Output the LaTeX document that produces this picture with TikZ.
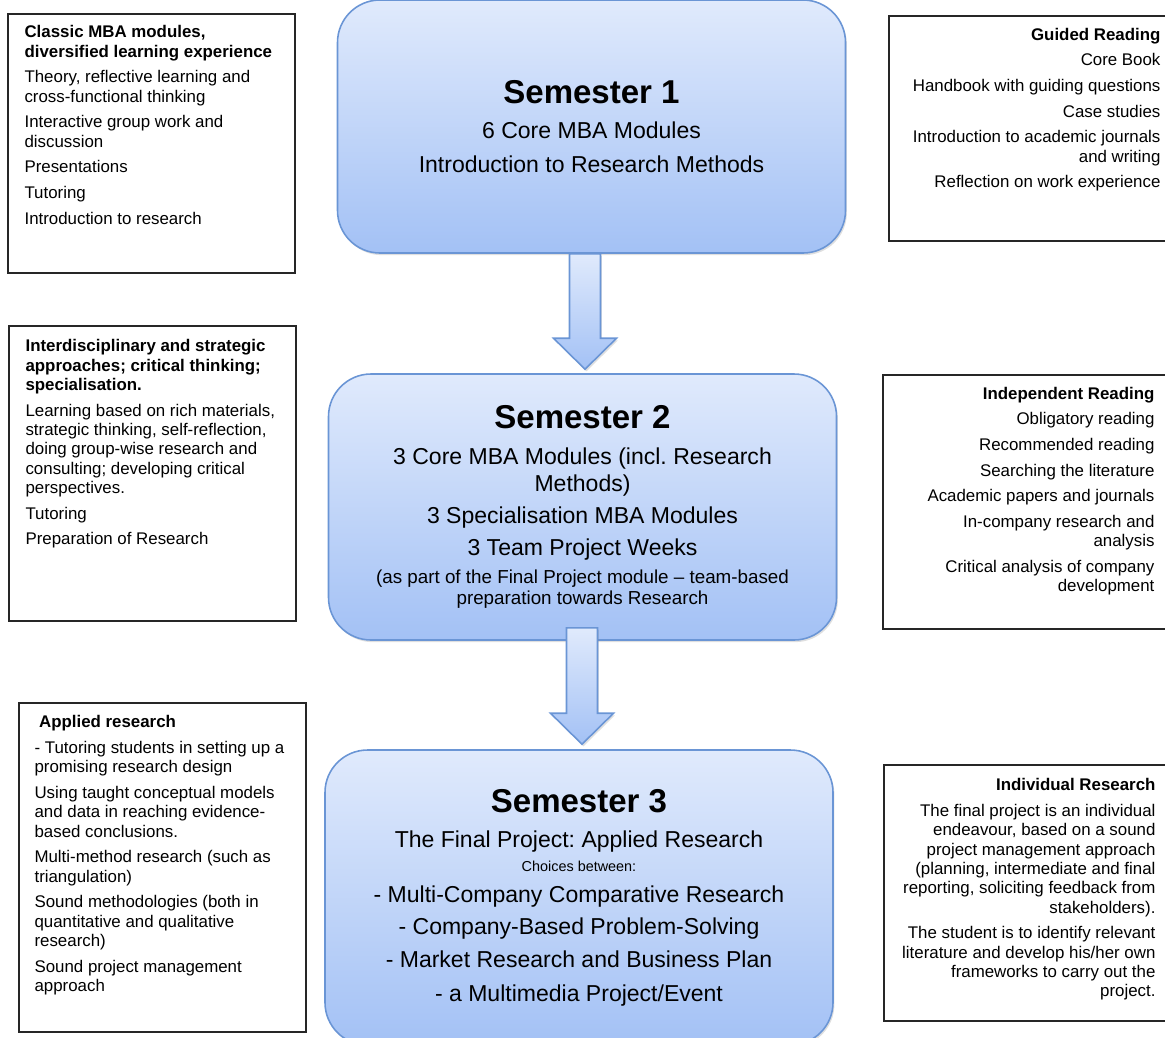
\documentclass[tikz,border=0pt]{standalone}
\usepackage{fontspec}
\setmainfont{Liberation Sans}
\usetikzlibrary{positioning,calc,shadows}
\definecolor{semtop}{HTML}{E0EAFC}
\definecolor{sembot}{HTML}{A3C1F5}
\definecolor{semline}{HTML}{6A95D5}
\frenchspacing
\newcommand{\semtitle}[1]{{\fontsize{18.8}{22}\selectfont\bfseries #1}}
\newcommand{\blockarrow}[2]{%
  \path[blockarrow] let \p1=(#1), \p2=(#2) in
    (\x2-0.31cm,\y1) -- (\x2-0.31cm,\y2+0.62cm) -- (\x2-0.63cm,\y2+0.62cm)
    -- (\x2,\y2) -- (\x2+0.63cm,\y2+0.62cm) -- (\x2+0.31cm,\y2+0.62cm)
    -- (\x2+0.31cm,\y1) -- cycle;}

\begin{document}
\begin{tikzpicture}[node distance=3cm,
  semester/.style={on grid,rounded corners=0.85cm,draw=semline,line width=0.9pt,
    top color=semtop,bottom color=sembot,minimum width=10.16cm,align=center,
    font=\fontsize{13.1}{18.7}\selectfont,
    drop shadow={shadow xshift=0.8pt,shadow yshift=-1.2pt,opacity=0.25}},
  sideframe/.style={on grid,draw=black!85,line width=0.9pt,minimum width=5.74cm},
  sidetext/.style={inner sep=0pt,font=\fontsize{9.6}{11}\selectfont},
  blockarrow/.style={draw=semline,line width=0.9pt,top color=semtop,bottom color=sembot,
    drop shadow={shadow xshift=0.8pt,shadow yshift=-1.2pt,opacity=0.25}}]
  \useasboundingbox (0,0) rectangle (23.3,-20.74);

  % the three semesters
  \node[semester,minimum height=5.06cm] (sem1) at (11.83,-2.53)
    {\semtitle{Semester 1}\\[1.7pt]
     6 Core MBA Modules\\[0.6pt]
     Introduction to Research Methods};
  \node[semester,minimum height=5.32cm,below=7.61cm of sem1,xshift=-0.18cm] (sem2)
    {\semtitle{Semester 2}\\[1.7pt]
     3 Core MBA Modules (incl. Research\\[-3.4pt]
     Methods)\\[-0.6pt]
     3 Specialisation MBA Modules\\
     3 Team Project Weeks\\[-2.8pt]
     {\fontsize{10.7}{12}\selectfont (as part of the Final Project module – team-based}\\[-6.8pt]
     {\fontsize{10.7}{12}\selectfont preparation towards Research}};
  \node[semester,minimum height=5.9cm,below=7.81cm of sem2,xshift=-0.07cm] (sem3)
    {\semtitle{Semester 3}\\[1.7pt]
     The Final Project: Applied Research\\[-5.1pt]
     {\fontsize{8.2}{10}\selectfont Choices between:}\\[-1.1pt]
     - Multi-Company Comparative Research\\[-0.6pt]
     - Company-Based Problem-Solving\\
     - Market Research and Business Plan\\[0.6pt]
     - a Multimedia Project/Event};

  % left column
  \node[sideframe,minimum height=5.18cm,below left=0.34cm and 8.8cm of sem1] (classic) {};
  \node[sidetext,align=left,below right=0.24cm and 0.34cm of classic.north west] (classictxt)
    {\textbf{Classic MBA modules,}\\
     \textbf{diversified learning experience}\\[3.6pt]
     Theory, reflective learning and\\
     cross-functional thinking\\[3.6pt]
     Interactive group work and\\
     discussion\\[3.6pt]
     Presentations\\[3.6pt]
     Tutoring\\[3.6pt]
     Introduction to research};
  \node[sideframe,minimum height=5.9cm,above left=0.67cm and 8.6cm of sem2] (strategic) {};
  \node[sidetext,align=left,below right=0.28cm and 0.34cm of strategic.north west] (strategictxt)
    {\textbf{Interdisciplinary and strategic}\\
     \textbf{approaches; critical thinking;}\\
     \textbf{specialisation.}\\[3.6pt]
     Learning based on rich materials,\\
     strategic thinking, self-reflection,\\
     doing group-wise research and\\
     consulting; developing critical\\
     perspectives.\\[3.6pt]
     Tutoring\\[3.6pt]
     Preparation of Research};
  \node[sideframe,minimum height=6.58cm,above left=0.6cm and 8.33cm of sem3] (applied) {};
  \node[sidetext,align=left,below right=0.26cm and 0.32cm of applied.north west] (appliedtxt)
    {\hspace*{2.6pt}\textbf{Applied research}\\[3.6pt]
     - Tutoring students in setting up a\\
     promising research design\\[3.6pt]
     Using taught conceptual models\\
     and data in reaching evidence-\\
     based conclusions.\\[3.6pt]
     Multi-method research (such as\\
     triangulation)\\[3.6pt]
     Sound methodologies (both in\\
     quantitative and qualitative\\
     research)\\[3.6pt]
     Sound project management\\
     approach};

  % right column
  \node[sideframe,minimum height=4.5cm,below right=0.04cm and 8.82cm of sem1] (guided) {};
  \node[sidetext,align=right,below left=0.25cm and 0.32cm of guided.north east] (guidedtxt)
    {\textbf{Guided Reading}\\[3.6pt]
     Core Book\\[3.6pt]
     Handbook with guiding questions\\[3.6pt]
     Case studies\\[3.6pt]
     Introduction to academic journals\\
     and writing\\[3.6pt]
     Reflection on work experience};
  \node[sideframe,minimum height=5.08cm,above right=0.1cm and 8.88cm of sem2] (independent) {};
  \node[sidetext,align=right,below left=0.25cm and 0.32cm of independent.north east] (independenttxt)
    {\textbf{Independent Reading}\\[3.6pt]
     Obligatory reading\\[3.6pt]
     Recommended reading\\[3.6pt]
     Searching the literature\\[3.6pt]
     Academic papers and journals\\[3.6pt]
     In-company research and\\
     analysis\\[3.6pt]
     Critical analysis of company\\
     development};
  \node[sideframe,minimum height=5.12cm,above right=0.09cm and 8.97cm of sem3] (individual) {};
  \node[sidetext,align=right,below left=0.28cm and 0.32cm of individual.north east] (individualtxt)
    {\textbf{Individual Research}\\[3.6pt]
     The final project is an individual\\
     endeavour, based on a sound\\
     project management approach\\
     (planning, intermediate and final\\
     reporting, soliciting feedback from\\
     stakeholders).\\[3.6pt]
     The student is to identify relevant\\
     literature and develop his/her own\\
     frameworks to carry out the\\
     project.};

  % arrows between semesters
  \coordinate (tail1) at (sem1.south);
  \coordinate (tip1) at ($(sem2.north)+(0.05,0.08)$);
  \coordinate (tail2) at ($(sem2.south)+(0,0.26)$);
  \coordinate (tip2) at ($(sem3.north)+(0.06,0.1)$);
  \blockarrow{tail1}{tip1}
  \blockarrow{tail2}{tip2}
\end{tikzpicture}
\end{document}
